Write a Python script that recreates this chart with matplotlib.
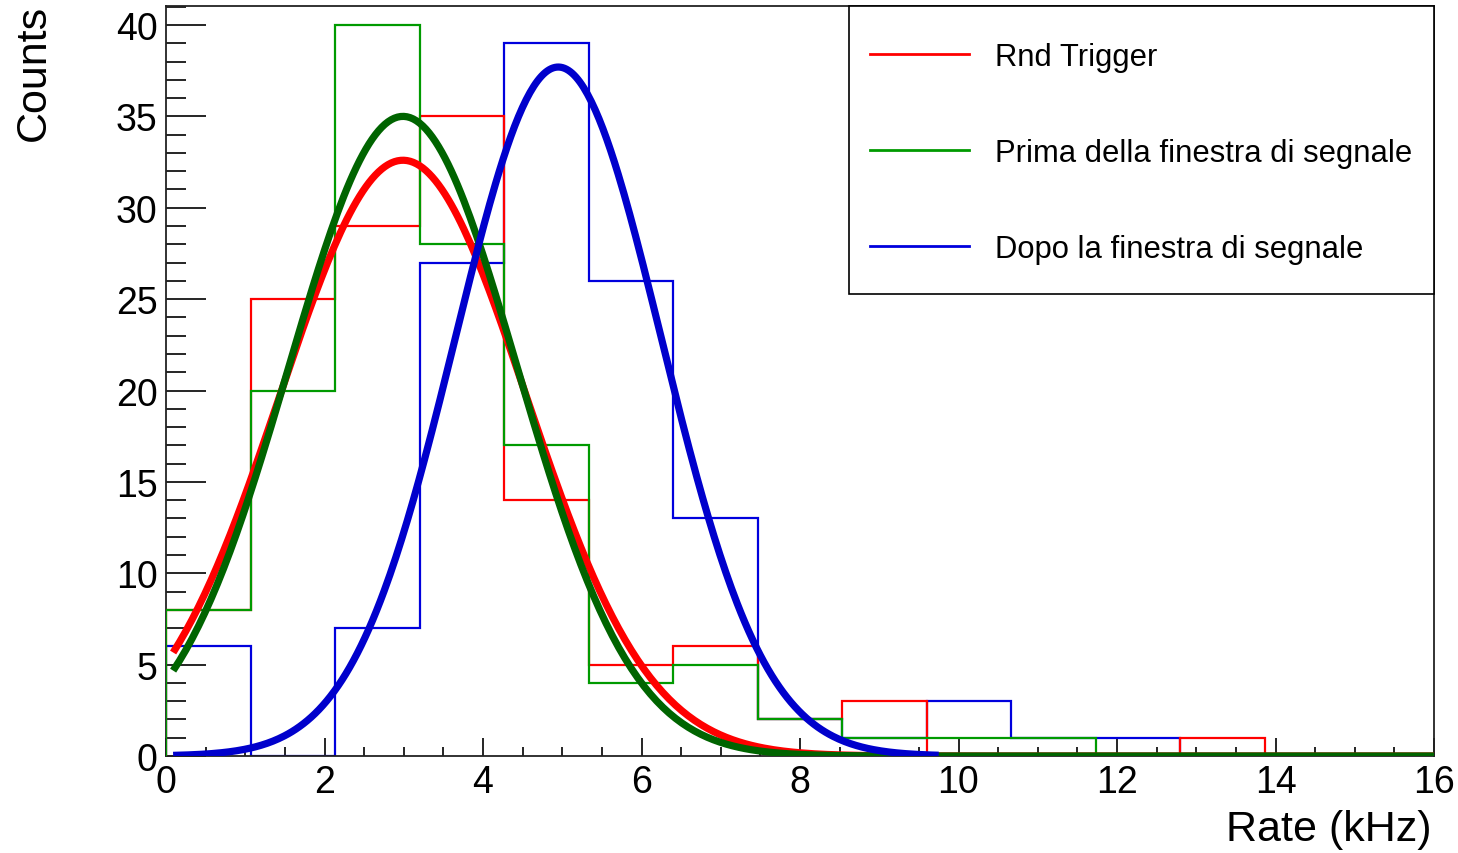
import numpy as np
import matplotlib.pyplot as plt
from matplotlib.lines import Line2D
from matplotlib.patches import Rectangle
from matplotlib.ticker import MultipleLocator

plt.rcParams['font.family'] = ['Liberation Sans', 'DejaVu Sans']

# 15 bins between 0 and 16 kHz
edges = np.linspace(0, 16, 16)

counts_rnd = [8, 25, 29, 35, 14, 5, 6, 2, 3, 0, 0, 0, 1, 0, 0]
counts_prima = [8, 20, 40, 28, 17, 4, 5, 2, 1, 1, 1, 0, 0, 0, 0]
counts_dopo = [6, 0, 7, 27, 39, 26, 13, 2, 1, 3, 1, 1, 0, 0, 0]

labels = ["Rnd Trigger", "Prima della finestra di segnale", "Dopo la finestra di segnale"]

# gaussian fit results: amplitude, mean, sigma and fit range
fit_amp = [32.6, 35.0, 37.7]
fit_mean = [2.99, 2.99, 4.95]
fit_sigma = [1.55, 1.445, 1.30]
fit_xmin = [0.09, 0.09, 0.09]
fit_xmax = [16.0, 16.0, 9.75]

hist_colors = ['#ff0000', '#009a00', '#0000dd']
fit_colors = ['#ff0000', '#006400', '#0000cc']

fig = plt.figure(figsize=(14.58, 8.54), dpi=100)
ax = fig.add_axes([166/1458, 97/854, 1268/1458, 750/854])

# histograms (blue underneath, then red, then green)
ax.stairs(counts_dopo, edges, color=hist_colors[2], lw=1.6, zorder=2)
ax.stairs(counts_rnd, edges, color=hist_colors[0], lw=1.6, zorder=3)
ax.stairs(counts_prima, edges, color=hist_colors[1], lw=1.6, zorder=4)

# fitted gaussians
for i in range(3):
    x = np.linspace(fit_xmin[i], fit_xmax[i], 400)
    y = fit_amp[i] * np.exp(-0.5 * ((x - fit_mean[i]) / fit_sigma[i]) ** 2)
    ax.plot(x, y, color=fit_colors[i], lw=5.2, zorder=5 + i, solid_capstyle='butt')

ax.set_xlim(0, 16)
ax.set_ylim(0, 41.04)

ax.xaxis.set_major_locator(MultipleLocator(2))
ax.xaxis.set_minor_locator(MultipleLocator(0.5))
ax.yaxis.set_major_locator(MultipleLocator(5))
ax.yaxis.set_minor_locator(MultipleLocator(1))
ax.tick_params(axis='both', which='both', direction='in', top=False, right=False,
               colors='black', width=1.2)
ax.tick_params(axis='y', which='major', length=29, pad=6, labelsize=27)
ax.tick_params(axis='y', which='minor', length=14.5)
ax.tick_params(axis='x', which='major', length=13, pad=6, labelsize=27)
ax.tick_params(axis='x', which='minor', length=6.5)

for sp in ax.spines.values():
    sp.set_linewidth(1.3)
    sp.set_color('#222222')

fig.text(1432/1458, 1 - 830/854, "Rate (kHz)", ha='right', va='center', fontsize=31)
fig.text(34/1458, 1 - 5/854, "Counts", rotation=90, ha='center', va='top', fontsize=31)

# legend box drawn separately so its size can be set directly
box = Rectangle((0.5387, 0.616), 0.4613, 0.384, transform=ax.transAxes,
                facecolor='white', edgecolor='black', lw=1.2, zorder=19, clip_on=False)
ax.add_patch(box)

handles = [Line2D([], [], color=c, lw=2) for c in hist_colors]
leg = ax.legend(handles, labels, loc='upper left', bbox_to_anchor=(0.5552, 0.952),
                borderaxespad=0, borderpad=0, fontsize=22.3, frameon=False,
                labelspacing=2.135, handlelength=3.2, handletextpad=0.85)
leg.set_zorder(20)

fig.savefig("out.png", dpi=100)
